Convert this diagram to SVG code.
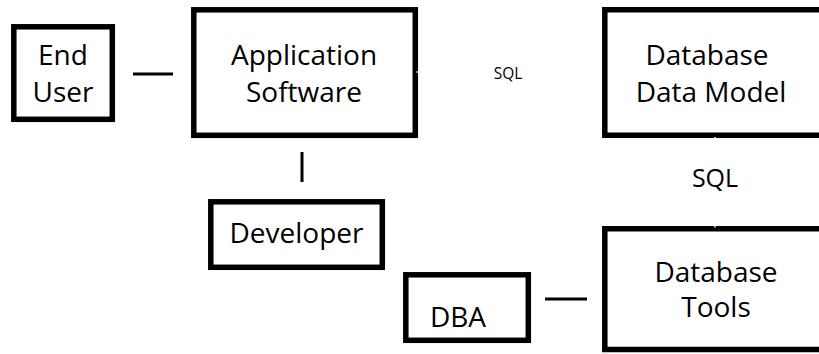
<svg xmlns="http://www.w3.org/2000/svg" width="819" height="354" viewBox="0 0 819 354" style="overflow:hidden">
<style>
.box{fill:#fff;stroke:#000;stroke-width:5.5}
.t{font-family:"Open Sans",Lato,"Liberation Sans",sans-serif;font-size:28px;fill:#000;text-anchor:middle}
.s{font-family:"Open Sans",Lato,"Liberation Sans",sans-serif;fill:#000;text-anchor:middle}
.c{stroke:#000;stroke-width:3;fill:none}
.w{stroke:#fff;stroke-width:1.5;fill:none}
</style>
<rect width="819" height="354" fill="#fff"/>
<g id="end-user"><rect class="box" x="13.8" y="26.8" width="98.5" height="92.5"/><text class="t" x="63" y="65">End</text><text class="t" x="63" y="102">User</text></g>
<g id="app"><rect class="box" x="193.8" y="9.8" width="221.5" height="125.5"/><text class="t" x="304" y="65">Application</text><text class="t" x="304" y="102">Software</text></g>
<g id="datamodel"><path class="box" d="M819,9.8 H604.8 V135.3 H819"/><text class="t" x="707" y="65">Database</text><text class="t" x="711" y="102">Data Model</text></g>
<g id="developer"><rect class="box" x="210.8" y="201.8" width="171.5" height="65.5"/><text class="t" x="296.5" y="243">Developer</text></g>
<g id="dba"><rect class="box" x="405.8" y="274.8" width="122.5" height="65.5"/><text class="t" x="458" y="327">DBA</text></g>
<g id="tools"><path class="box" d="M819,228.8 H604.8 V349.5 H819"/><text class="t" x="716" y="282">Database</text><text class="t" x="716" y="317">Tools</text></g>
<g id="connectors">
<line class="c" x1="133" y1="74" x2="173" y2="74"/>
<line class="c" x1="302" y1="152" x2="302" y2="182"/>
<line class="c" x1="545" y1="299" x2="587" y2="299"/>
<line class="w" x1="416.5" y1="72" x2="602" y2="72"/>
<line class="w" x1="715" y1="137" x2="715" y2="227.5"/>
<text class="s" x="508" y="79" font-size="15.5">SQL</text>
<text class="s" x="715" y="187" font-size="25">SQL</text>
</g>
</svg>
